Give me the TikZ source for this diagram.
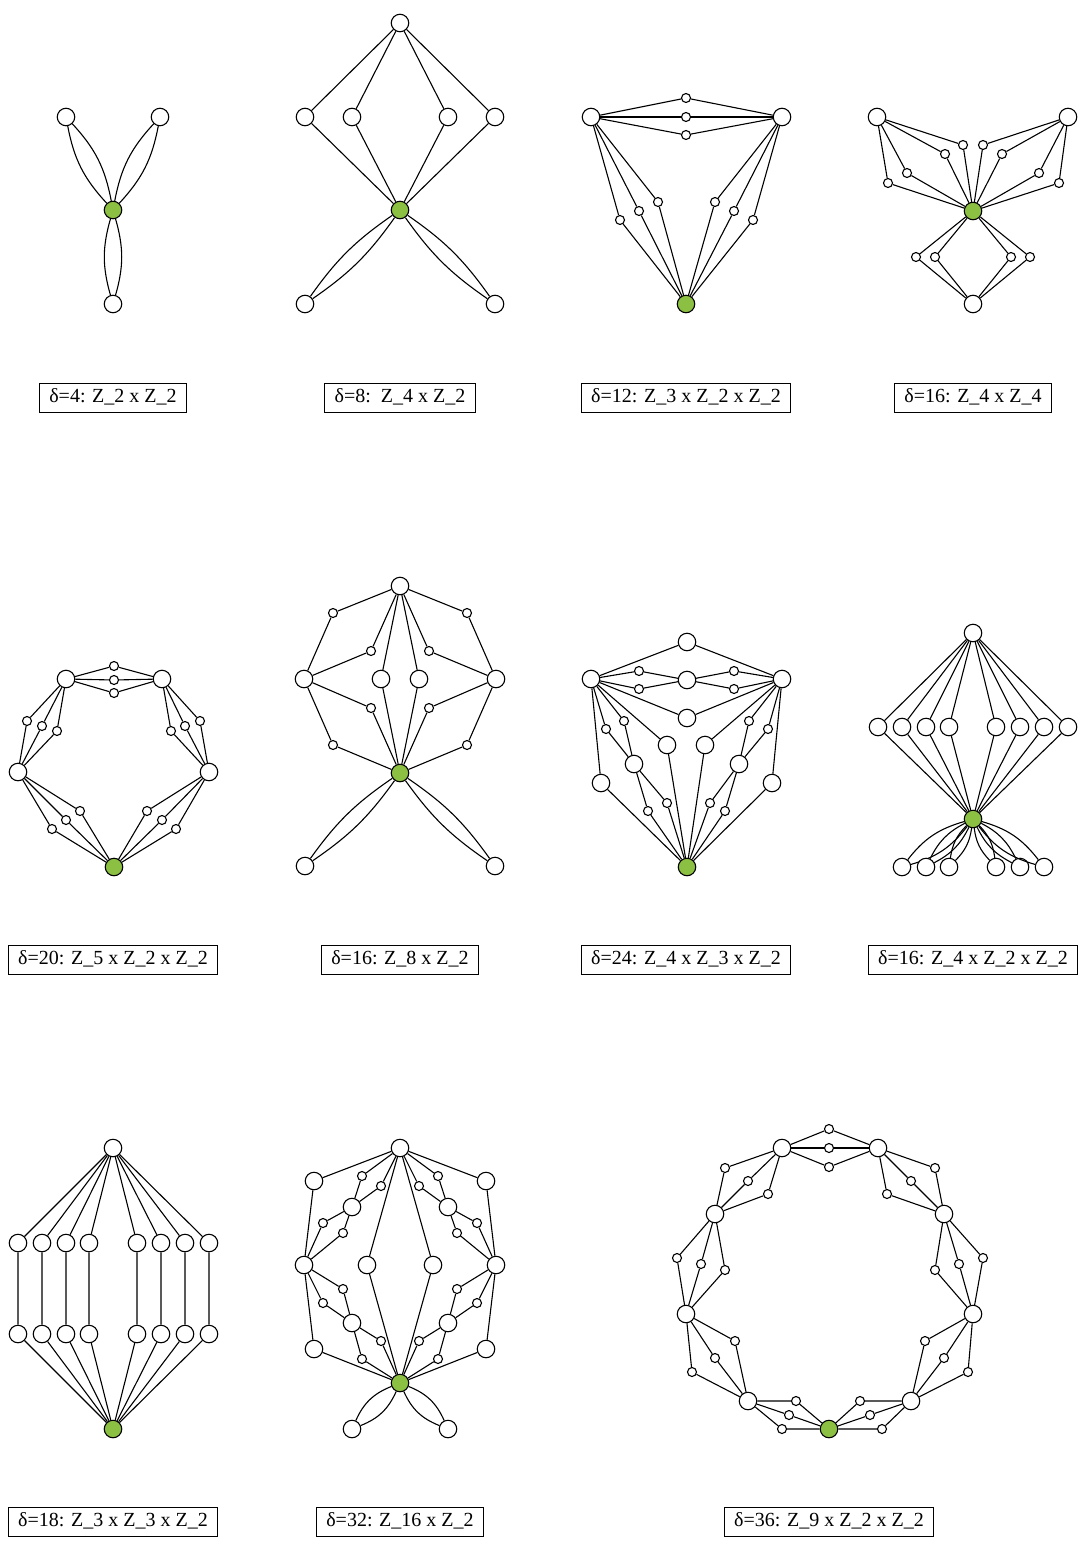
\documentclass[tikz,border=0pt]{standalone}
\usepackage{fontspec}
\setmainfont{Liberation Serif}
\usetikzlibrary{positioning}
\definecolor{rootgreen}{HTML}{8CC043}

\begin{document}
\begin{tikzpicture}[
    x=1bp, y=-1bp,
    line width=1.1bp,
    big/.style={circle, draw=black, fill=white, minimum size=17.5bp, inner sep=0pt},
    sm/.style={circle, draw=black, fill=white, minimum size=9bp, inner sep=0pt},
    root/.style={big, fill=rootgreen},
    caption/.style={rectangle, draw=black, line width=0.8bp, font=\fontsize{20bp}{24bp}\selectfont, inner xsep=10bp, inner ysep=5bp, text height=14.5bp, text depth=5bp}
]
\useasboundingbox (0,0) rectangle (1080,1551);

% delta=4
\node[root] (a0) at (113,210) {};
\node[big] (a1) at (66,117) {};
\node[big] (a2) at (160,117) {};
\node[big] (a3) at (113,304) {};
\foreach \n in {a1,a2,a3}
  \draw (a0) to[bend left=16] (\n) (a0) to[bend right=16] (\n);

% delta=8
\node[big] (b0) at (400,23) {};
\node[root] (bg) at (400,210) {};
\foreach \x [count=\i] in {305,352,448,495} {
  \node[big] (b\i) at (\x,117) {};
  \draw (b0) -- (b\i) -- (bg);
}
\node[big] (b5) at (305,304) {};
\node[big] (b6) at (495,304) {};
\foreach \n in {b5,b6}
  \draw (bg) to[bend left=10] (\n) (bg) to[bend right=10] (\n);

% delta=12
\node[big] (c1) at (591,117) {};
\node[big] (c2) at (782,117) {};
\node[root] (cg) at (686,304) {};
\foreach \y [count=\i] in {98,117,135} {
  \node[sm] (ct\i) at (686,\y) {};
  \draw (c1) -- (ct\i) -- (c2);
}
\foreach \x/\y [count=\i] in {620/220,639/211,658/202} {
  \node[sm] (cl\i) at (\x,\y) {};
  \draw (c1) -- (cl\i) -- (cg);
}
\foreach \x/\y [count=\i] in {715/202,734/211,753/220} {
  \node[sm] (cr\i) at (\x,\y) {};
  \draw (c2) -- (cr\i) -- (cg);
}

% delta=16, Z_4 x Z_4
\node[big] (d1) at (877,117) {};
\node[big] (d2) at (1068,117) {};
\node[root] (dg) at (973,211) {};
\node[big] (d3) at (973,304) {};
\foreach \x/\y [count=\i] in {888/183,907/173,945/154,963/145} {
  \node[sm] (dl\i) at (\x,\y) {};
  \draw (d1) -- (dl\i) -- (dg);
}
\foreach \x/\y [count=\i] in {983/145,1002/154,1039/173,1059/183} {
  \node[sm] (dr\i) at (\x,\y) {};
  \draw (d2) -- (dr\i) -- (dg);
}
\foreach \x [count=\i] in {916,935,1011,1030} {
  \node[sm] (db\i) at (\x,257) {};
  \draw (dg) -- (db\i) -- (d3);
}

% delta=20
\node[big] (e1) at (66,679) {};
\node[big] (e2) at (162,679) {};
\node[big] (e3) at (18,772) {};
\node[big] (e4) at (209,772) {};
\node[root] (eg) at (114,867) {};
\foreach \y [count=\i] in {666,680,693} {
  \node[sm] (et\i) at (114,\y) {};
  \draw (e1) -- (et\i) -- (e2);
}
\foreach \x/\y [count=\i] in {27/721,42/726,57/731} {
  \node[sm] (el\i) at (\x,\y) {};
  \draw (e1) -- (el\i) -- (e3);
}
\foreach \x/\y [count=\i] in {200/721,185/726,171/731} {
  \node[sm] (er\i) at (\x,\y) {};
  \draw (e2) -- (er\i) -- (e4);
}
\foreach \x/\y [count=\i] in {52/829,66/820,80/811} {
  \node[sm] (ebl\i) at (\x,\y) {};
  \draw (e3) -- (ebl\i) -- (eg);
}
\foreach \x/\y [count=\i] in {176/829,162/820,147/811} {
  \node[sm] (ebr\i) at (\x,\y) {};
  \draw (e4) -- (ebr\i) -- (eg);
}

% delta=16, Z_8 x Z_2
\node[big] (f0) at (400,586) {};
\node[root] (fg) at (400,773) {};
\foreach \s/\t in {-1/l,1/r} {
  \node[big] (fm\t) at ({400+\s*96},679) {};
  \node[big] (fc\t) at ({400+\s*19},679) {};
  \node[big] (fb\t) at ({400+\s*95},866) {};
  \node[sm] (fs1\t) at ({400+\s*67},613) {};
  \node[sm] (fs2\t) at ({400+\s*29},651) {};
  \node[sm] (fs3\t) at ({400+\s*29},708) {};
  \node[sm] (fs4\t) at ({400+\s*67},745) {};
  \draw (f0) -- (fs1\t) -- (fm\t) -- (fs4\t) -- (fg);
  \draw (f0) -- (fs2\t) -- (fm\t) -- (fs3\t) -- (fg);
  \draw (f0) -- (fc\t) -- (fg);
  \draw (fg) to[bend left=10] (fb\t) (fg) to[bend right=10] (fb\t);
}

% delta=24
\node[big] (h0) at (687,642) {};
\node[big] (hl) at (591,679) {};
\node[big] (hr) at (782,679) {};
\node[big] (hc) at (687,680) {};
\node[big] (hd) at (687,718) {};
\node[root] (hg) at (687,867) {};
\draw (hl) -- (h0) -- (hr);
\draw (hl) -- (hd) -- (hr);
\foreach \y [count=\i] in {671,689} {
  \node[sm] (htl\i) at (639,\y) {};
  \node[sm] (htr\i) at (734,\y) {};
  \draw (hl) -- (htl\i) -- (hc) -- (htr\i) -- (hr);
}
\node[big] (hml) at (667,745) {};
\node[big] (hmr) at (705,745) {};
\node[big] (hkl) at (634,764) {};
\node[big] (hkr) at (739,764) {};
\node[big] (hol) at (601,783) {};
\node[big] (hor) at (772,783) {};
\draw (hl) -- (hml) -- (hg) -- (hmr) -- (hr);
\draw (hl) -- (hol) -- (hg) -- (hor) -- (hr);
\foreach \x/\y [count=\i] in {606/729,624/721} {
  \node[sm] (hul\i) at (\x,\y) {};
  \draw (hl) -- (hul\i) -- (hkl);
}
\foreach \x/\y [count=\i] in {768/729,749/721} {
  \node[sm] (hur\i) at (\x,\y) {};
  \draw (hr) -- (hur\i) -- (hkr);
}
\foreach \x/\y [count=\i] in {648/811,667/803} {
  \node[sm] (hvl\i) at (\x,\y) {};
  \draw (hkl) -- (hvl\i) -- (hg);
}
\foreach \x/\y [count=\i] in {725/811,710/803} {
  \node[sm] (hvr\i) at (\x,\y) {};
  \draw (hkr) -- (hvr\i) -- (hg);
}

% delta=16, Z_4 x Z_2 x Z_2
\node[big] (k0) at (973,633) {};
\node[root] (kg) at (973,819) {};
\foreach \x [count=\i] in {878,902,926,949,996,1020,1044,1068} {
  \node[big] (km\i) at (\x,727) {};
  \draw (k0) -- (km\i) -- (kg);
}
\foreach \x [count=\i] in {902,926,949,996,1020,1044} {
  \node[big] (kb\i) at (\x,867) {};
  \draw (kg) to[bend left=18] (kb\i) (kg) to[bend right=18] (kb\i);
}

% delta=18
\node[big] (m0) at (113,1148) {};
\node[root] (mg) at (113,1429) {};
\foreach \x [count=\i] in {18,42,66,89,137,161,185,209} {
  \node[big] (mu\i) at (\x,1243) {};
  \node[big] (ml\i) at (\x,1334) {};
  \draw (m0) -- (mu\i) -- (ml\i) -- (mg);
}

% delta=32
\node[big] (p0) at (400,1148) {};
\node[root] (pg) at (400,1383) {};
\foreach \s/\t in {-1/l,1/r} {
  \node[big] (pa\t) at ({400+\s*86},1181) {};
  \node[big] (pm\t) at ({400+\s*96},1265) {};
  \node[big] (pb\t) at ({400+\s*86},1349) {};
  \node[big] (pc\t) at ({400+\s*33},1265) {};
  \node[big] (pd\t) at ({400+\s*48},1207) {};
  \node[big] (pe\t) at ({400+\s*48},1323) {};
  \node[big] (pf\t) at ({400+\s*48},1429) {};
  \node[sm] (ps1\t) at ({400+\s*38},1176) {};
  \node[sm] (ps2\t) at ({400+\s*19},1186) {};
  \node[sm] (ps3\t) at ({400+\s*77},1223) {};
  \node[sm] (ps4\t) at ({400+\s*57},1233) {};
  \node[sm] (ps5\t) at ({400+\s*57},1289) {};
  \node[sm] (ps6\t) at ({400+\s*77},1303) {};
  \node[sm] (ps7\t) at ({400+\s*19},1341) {};
  \node[sm] (ps8\t) at ({400+\s*38},1359) {};
  \draw (p0) -- (pa\t) -- (pm\t) -- (pb\t) -- (pg);
  \draw (p0) -- (pc\t) -- (pg);
  \draw (p0) -- (ps1\t) -- (pd\t) -- (ps3\t) -- (pm\t) -- (ps5\t) -- (pe\t) -- (ps7\t) -- (pg);
  \draw (p0) -- (ps2\t) -- (pd\t) -- (ps4\t) -- (pm\t) -- (ps6\t) -- (pe\t) -- (ps8\t) -- (pg);
  \draw (pg) to[bend left=22] (pf\t) (pg) to[bend right=22] (pf\t);
}

% delta=36
\node[big] (q1) at (782,1148) {};
\node[big] (q2) at (878,1148) {};
\node[big] (q3) at (944,1214) {};
\node[big] (q4) at (973,1314) {};
\node[big] (q5) at (911,1401) {};
\node[big] (q6) at (748,1401) {};
\node[big] (q7) at (686,1314) {};
\node[big] (q8) at (715,1214) {};
\node[root] (qg) at (829,1429) {};
\foreach \x/\y [count=\i] in {829/1129,829/1148,829/1167} {
  \node[sm] (qa\i) at (\x,\y) {};
  \draw (q1) -- (qa\i) -- (q2);
}
\foreach \x/\y [count=\i] in {725/1168,748/1181,768/1194} {
  \node[sm] (qb\i) at (\x,\y) {};
  \draw (q1) -- (qb\i) -- (q8);
}
\foreach \x/\y [count=\i] in {677/1258,701/1264,725/1270} {
  \node[sm] (qc\i) at (\x,\y) {};
  \draw (q8) -- (qc\i) -- (q7);
}
\foreach \x/\y [count=\i] in {692/1372,715/1358,735/1341} {
  \node[sm] (qd\i) at (\x,\y) {};
  \draw (q7) -- (qd\i) -- (q6);
}
\foreach \x/\y [count=\i] in {796/1401,789/1415,782/1429} {
  \node[sm] (qe\i) at (\x,\y) {};
  \draw (q6) -- (qe\i) -- (qg);
}
\foreach \x/\y [count=\i] in {935/1168,911/1181,887/1194} {
  \node[sm] (qf\i) at (\x,\y) {};
  \draw (q2) -- (qf\i) -- (q3);
}
\foreach \x/\y [count=\i] in {983/1258,959/1264,935/1270} {
  \node[sm] (qh\i) at (\x,\y) {};
  \draw (q3) -- (qh\i) -- (q4);
}
\foreach \x/\y [count=\i] in {968/1372,944/1358,925/1341} {
  \node[sm] (qk\i) at (\x,\y) {};
  \draw (q4) -- (qk\i) -- (q5);
}
\foreach \x/\y [count=\i] in {860/1401,870/1415,882/1429} {
  \node[sm] (qm\i) at (\x,\y) {};
  \draw (q5) -- (qm\i) -- (qg);
}

% Captions
\node[caption] (cap1) at (113,398) {δ=4: Z\_2 x Z\_2};
\node[caption] (cap2) at (400,398) {δ=8:\ \ Z\_4 x Z\_2};
\node[caption] (cap3) at (686,398) {δ=12: Z\_3 x Z\_2 x Z\_2};
\node[caption] (cap4) at (973,398) {δ=16: Z\_4 x Z\_4};
\node[caption] (cap5) at (113,960) {δ=20: Z\_5 x Z\_2 x Z\_2};
\node[caption] (cap6) at (400,960) {δ=16: Z\_8 x Z\_2};
\node[caption] (cap7) at (686,960) {δ=24: Z\_4 x Z\_3 x Z\_2};
\node[caption] (cap8) at (973,960) {δ=16: Z\_4 x Z\_2 x Z\_2};
\node[caption] (cap9) at (113,1522) {δ=18: Z\_3 x Z\_3 x Z\_2};
\node[caption] (cap10) at (400,1522) {δ=32: Z\_16 x Z\_2};
\node[caption] (cap11) at (829,1522) {δ=36: Z\_9 x Z\_2 x Z\_2};

\end{tikzpicture}
\end{document}
